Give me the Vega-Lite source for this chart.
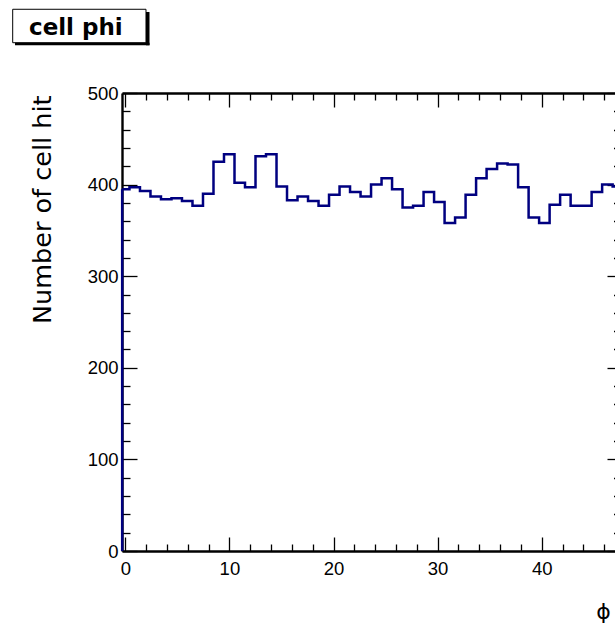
{
  "$schema": "https://vega.github.io/schema/vega-lite/v6.json",
  "width": 493,
  "height": 458,
  "autosize": {"type": "none"},
  "padding": {"left": 122, "top": 93, "right": 0, "bottom": 78},
  "background": "white",
  "config": {
    "view": {"stroke": null},
    "axis": {
      "grid": false,
      "domainColor": "black",
      "domainWidth": 2.4,
      "tickColor": "black",
      "tickWidth": 1.3,
      "labelColor": "black",
      "labelFont": "Liberation Sans",
      "labelFontSize": 18.5,
      "labelFlush": false,
      "labelOverlap": false,
      "titleColor": "black"
    }
  },
  "title": {
    "text": "cell phi",
    "anchor": "start",
    "frame": "group",
    "dx": -93,
    "offset": -49,
    "baseline": "alphabetic",
    "font": "DejaVu Sans",
    "fontSize": 23,
    "fontWeight": "bold",
    "color": "black",
    "zindex": 1
  },
  "data": {
    "values": [
      {"phi": -0.3, "hits": 395},
      {"phi": 0.4, "hits": 397},
      {"phi": 1.409, "hits": 393},
      {"phi": 2.418, "hits": 387},
      {"phi": 3.427, "hits": 384},
      {"phi": 4.436, "hits": 385},
      {"phi": 5.445, "hits": 382},
      {"phi": 6.454, "hits": 377},
      {"phi": 7.463, "hits": 390},
      {"phi": 8.472, "hits": 425},
      {"phi": 9.481, "hits": 433},
      {"phi": 10.49, "hits": 402},
      {"phi": 11.499, "hits": 397},
      {"phi": 12.508, "hits": 431},
      {"phi": 13.517, "hits": 433},
      {"phi": 14.526, "hits": 398},
      {"phi": 15.535, "hits": 383},
      {"phi": 16.544, "hits": 387},
      {"phi": 17.553, "hits": 382},
      {"phi": 18.562, "hits": 377},
      {"phi": 19.571, "hits": 389},
      {"phi": 20.58, "hits": 398},
      {"phi": 21.589, "hits": 392},
      {"phi": 22.598, "hits": 387},
      {"phi": 23.607, "hits": 400},
      {"phi": 24.616, "hits": 407},
      {"phi": 25.625, "hits": 395},
      {"phi": 26.634, "hits": 375},
      {"phi": 27.643, "hits": 377},
      {"phi": 28.652, "hits": 392},
      {"phi": 29.661, "hits": 381},
      {"phi": 30.67, "hits": 358},
      {"phi": 31.679, "hits": 364},
      {"phi": 32.688, "hits": 389},
      {"phi": 33.697, "hits": 407},
      {"phi": 34.706, "hits": 417},
      {"phi": 35.715, "hits": 423},
      {"phi": 36.724, "hits": 422},
      {"phi": 37.733, "hits": 397},
      {"phi": 38.742, "hits": 364},
      {"phi": 39.751, "hits": 358},
      {"phi": 40.76, "hits": 378},
      {"phi": 41.769, "hits": 389},
      {"phi": 42.778, "hits": 377},
      {"phi": 43.787, "hits": 377},
      {"phi": 44.796, "hits": 392},
      {"phi": 45.805, "hits": 400},
      {"phi": 46.814, "hits": 398},
      {"phi": 47.823, "hits": 396}
    ]
  },
  "resolve": {"axis": {"x": "independent", "y": "independent"}},
  "layer": [
    {
      "data": {"values": [{}]},
      "mark": {"type": "rect", "fillOpacity": 0, "stroke": "black", "strokeWidth": 1},
      "encoding": {
        "x": {"datum": -10.817, "type": "quantitative", "scale": {"domain": [-0.317, 47.041], "nice": false, "zero": false},
          "axis": {"orient": "top", "values": [0, 10, 20, 30, 40], "tickSize": -14, "labels": false, "domain": true, "title": null}},
        "x2": {"datum": 1.988},
        "y": {"datum": 591.4, "type": "quantitative", "scale": {"domain": [0, 500], "nice": false},
          "axis": {"orient": "right", "values": [0, 100, 200, 300, 400, 500], "tickSize": -8, "labels": false, "domain": false, "title": null}},
        "y2": {"datum": 554.9}
      }
    },
    {
      "data": {"values": [{}]},
      "mark": {"type": "rect", "color": "black"},
      "encoding": {
        "x": {"datum": 1.988, "type": "quantitative", "scale": {"domain": [-0.317, 47.041], "nice": false, "zero": false},
          "axis": {"orient": "top", "values": [2, 4, 6, 8, 12, 14, 16, 18, 22, 24, 26, 28, 32, 34, 36, 38, 42, 44, 46], "tickSize": -7, "labels": false, "domain": false, "title": null}},
        "x2": {"datum": 2.325},
        "y": {"datum": 588.4, "type": "quantitative", "scale": {"domain": [0, 500], "nice": false},
          "axis": {"orient": "right", "values": [20, 40, 60, 80, 120, 140, 160, 180, 220, 240, 260, 280, 320, 340, 360, 380, 420, 440, 460, 480], "tickSize": -1.5, "labels": false, "domain": false, "title": null}},
        "y2": {"datum": 552.1}
      }
    },
    {
      "data": {"values": [{}]},
      "mark": {"type": "rect", "color": "black"},
      "encoding": {
        "x": {"datum": -10.596, "type": "quantitative", "scale": {"domain": [-0.317, 47.041], "nice": false, "zero": false}, "axis": null},
        "x2": {"datum": 2.325},
        "y": {"datum": 554.9, "type": "quantitative", "scale": {"domain": [0, 500], "nice": false}, "axis": null},
        "y2": {"datum": 552.1}
      }
    },
    {
      "mark": {"type": "line", "interpolate": "step-after", "color": "#000080", "strokeWidth": 2.5, "clip": true},
      "encoding": {
        "x": {"field": "phi", "type": "quantitative", "scale": {"domain": [-0.317, 47.041], "nice": false, "zero": false},
          "axis": {"orient": "bottom", "values": [0, 10, 20, 30, 40], "tickSize": -14, "labelPadding": 22, "labelBaseline": "top", "domain": true,
            "title": "ϕ", "titleFont": "DejaVu Sans", "titleFontSize": 22, "titleFontWeight": "normal", "titleX": 481, "titleY": 60, "titleAlign": "center", "titleBaseline": "middle"}},
        "y": {"field": "hits", "type": "quantitative", "scale": {"domain": [0, 500], "nice": false},
          "axis": {"orient": "left", "values": [0, 100, 200, 300, 400, 500], "tickSize": -15, "labelPadding": 19, "domain": true,
            "title": "Number of cell hit", "titleFont": "DejaVu Sans", "titleFontSize": 25.5, "titleFontWeight": "normal", "titleAngle": -90, "titleX": -72, "titleY": 2, "titleAlign": "right", "titleBaseline": "alphabetic"}}
      }
    },
    {
      "transform": [{"filter": "datum.phi < 0"}],
      "mark": {"type": "rule", "color": "#000080", "strokeWidth": 2.5},
      "encoding": {
        "x": {"field": "phi", "type": "quantitative", "scale": {"domain": [-0.317, 47.041], "nice": false, "zero": false},
          "axis": {"orient": "bottom", "values": [2, 4, 6, 8, 12, 14, 16, 18, 22, 24, 26, 28, 32, 34, 36, 38, 42, 44, 46], "tickSize": -7, "labels": false, "domain": false, "title": null}},
        "y": {"field": "hits", "type": "quantitative", "scale": {"domain": [0, 500], "nice": false},
          "axis": {"orient": "left", "values": [20, 40, 60, 80, 120, 140, 160, 180, 220, 240, 260, 280, 320, 340, 360, 380, 420, 440, 460, 480], "tickSize": -8, "labels": false, "domain": false, "title": null}},
        "y2": {"datum": 0}
      }
    }
  ]
}
